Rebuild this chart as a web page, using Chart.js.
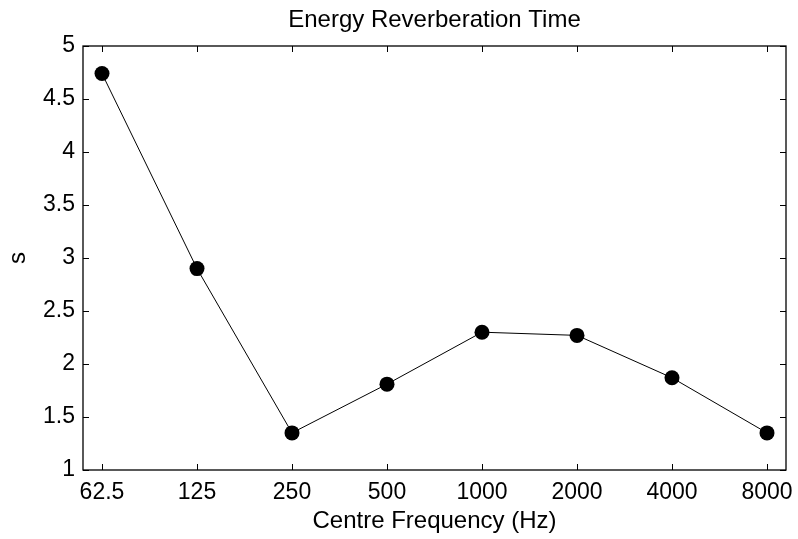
<!DOCTYPE html>
<html>
<head>
<meta charset="utf-8">
<script src="https://cdn.jsdelivr.net/npm/chart.js@4/dist/chart.umd.min.js"></script>
<style>
  html, body { margin: 0; padding: 0; background: #fff; }
  #wrap { width: 798px; height: 539px; }
</style>
</head>
<body>
<div id="wrap"><canvas id="rtChart" width="798" height="539"></canvas></div>
<script>
// frequency bands (x tick labels) and reverberation time in seconds
const freqLabels = ['62.5', '125', '250', '500', '1000', '2000', '4000', '8000'];
const rtValues = [4.74, 2.90, 1.35, 1.81, 2.30, 2.27, 1.87, 1.35];
const yTicks = [1, 1.5, 2, 2.5, 3, 3.5, 4, 4.5, 5];
const chartTitle = 'Energy Reverberation Time';

const FONT = 'Liberation Sans, Arial, Helvetica, sans-serif';

// matlab style box with inward ticks, title centred over the axes
const boxTicks = {
    id: 'boxTicks',
    afterDraw(chart) {
        const { ctx, chartArea: a, scales } = chart;
        const len = 6;
        ctx.save();
        ctx.strokeStyle = '#000';
        ctx.lineWidth = 1;
        ctx.beginPath();
        scales.x.ticks.forEach(t => {
            const px = Math.round(scales.x.getPixelForValue(t.value)) + 0.5;
            ctx.moveTo(px, a.bottom); ctx.lineTo(px, a.bottom - len);
            ctx.moveTo(px, a.top); ctx.lineTo(px, a.top + len);
        });
        scales.y.ticks.forEach(t => {
            const py = Math.round(scales.y.getPixelForValue(t.value)) + 0.5;
            ctx.moveTo(a.left, py); ctx.lineTo(a.left + len, py);
            ctx.moveTo(a.right, py); ctx.lineTo(a.right - len, py);
        });
        ctx.stroke();
        ctx.lineWidth = 1.3;
        ctx.strokeRect(a.left, a.top, a.right - a.left, a.bottom - a.top);

        ctx.fillStyle = '#000';
        ctx.font = '24px ' + FONT;
        ctx.textAlign = 'center';
        ctx.textBaseline = 'alphabetic';
        ctx.fillText(chartTitle, (a.left + a.right) / 2, 27);
        ctx.restore();
    }
};

new Chart(document.getElementById('rtChart'), {
    type: 'line',
    data: {
        datasets: [{
            data: rtValues.map((v, i) => ({ x: i, y: v })),
            borderColor: '#000',
            borderWidth: 1,
            backgroundColor: '#000',
            pointBackgroundColor: '#000',
            pointBorderColor: '#000',
            pointRadius: 7.5,
            pointBorderWidth: 0,
            tension: 0,
            fill: false
        }]
    },
    options: {
        responsive: false,
        animation: false,
        events: [],
        layout: { padding: { top: 46, right: 12, bottom: 0, left: 0 } },
        plugins: {
            legend: { display: false },
            tooltip: { enabled: false },
            title: { display: false }
        },
        scales: {
            x: {
                type: 'linear',
                min: -0.2,
                max: 7.2,
                grid: { display: false, drawTicks: false },
                border: { display: false },
                afterBuildTicks: s => { s.ticks = freqLabels.map((_, i) => ({ value: i })); },
                afterFit: s => { s.height = 69; s.paddingLeft = 0; s.paddingRight = 0; },
                ticks: {
                    color: '#000',
                    padding: 9,
                    maxRotation: 0,
                    autoSkip: false,
                    font: { family: FONT, size: 23 },
                    callback: v => freqLabels[v]
                },
                title: {
                    display: true,
                    text: 'Centre Frequency (Hz)',
                    color: '#000',
                    font: { family: FONT, size: 24 },
                    padding: { top: 0, bottom: 3 }
                }
            },
            y: {
                min: 1,
                max: 5,
                grid: { display: false, drawTicks: false },
                border: { display: false },
                afterBuildTicks: s => { s.ticks = yTicks.map(v => ({ value: v })); },
                afterFit: s => { s.width = 83; s.paddingTop = 0; s.paddingBottom = 0; },
                ticks: {
                    color: '#000',
                    padding: 8,
                    font: { family: FONT, size: 23 },
                    callback: v => String(v)
                },
                title: {
                    display: true,
                    text: 's',
                    color: '#000',
                    font: { family: FONT, size: 24 },
                    padding: { top: 4, bottom: 0 }
                }
            }
        }
    },
    plugins: [boxTicks]
});
</script>
</body>
</html>
